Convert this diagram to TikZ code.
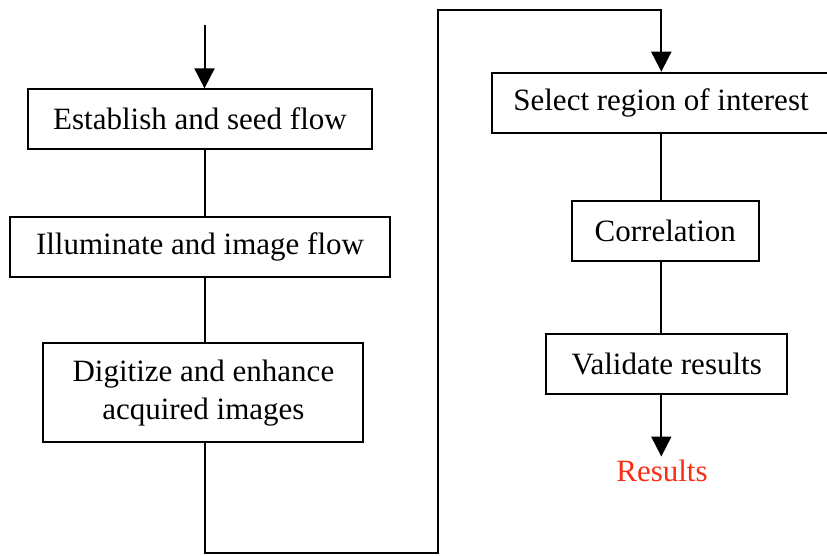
\documentclass[tikz,border=0pt]{standalone}
\usepackage{fontspec}
\setmainfont{Liberation Serif}
\usetikzlibrary{arrows.meta}
\definecolor{resultred}{RGB}{250,45,20}
\tikzset{
  stepbox/.style={draw, line width=2pt, inner sep=0pt, align=center,
    font=\fontsize{31}{38}\selectfont},
  link/.style={line width=2pt},
  flowarrow/.style={line width=2pt, -{Triangle[width=20pt,length=20pt]}}
}
\begin{document}
\begin{tikzpicture}[x=1pt,y=-1pt]
\useasboundingbox (0,0) rectangle (827,555);
\begin{scope}
\clip (0,0) rectangle (827,555);
% left column
\node[stepbox, minimum width=344.6pt, minimum height=59.7pt] (seed) at (200,119.2) {Establish and seed flow};
\node[stepbox, minimum width=380pt, minimum height=60pt] (illum) at (200,247) {Illuminate and image flow};
\node[stepbox, minimum width=320pt, minimum height=99pt] (digit) at (203.4,392.8) {Digitize and enhance\\acquired images};
% right column
\node[stepbox, minimum width=338pt, minimum height=60.6pt] (roi) at (661,103) {Select region of interest};
\node[stepbox, minimum width=187pt, minimum height=60pt] (corr) at (665.3,231) {Correlation};
\node[stepbox, minimum width=241pt, minimum height=60pt] (valid) at (666.7,364) {Validate results};
\node[text=resultred, inner sep=0pt, font=\fontsize{31}{38}\selectfont] (res) at (662,471) {Results};
% spine coordinates
\coordinate (start) at (204.5,25);
\coordinate (lx) at (204.5,0);
\coordinate (rx) at (661.3,0);
\coordinate (botL) at (204.5,553);
\coordinate (botR) at (437.5,553);
\coordinate (topL) at (437.5,9.5);
\coordinate (topR) at (661.3,9.5);
\coordinate (restip) at (661.3,456.5);
% connectors
\draw[flowarrow] (start) -- (seed.north -| lx);
\draw[link] (seed.south -| lx) -- (illum.north -| lx);
\draw[link] (illum.south -| lx) -- (digit.north -| lx);
\draw[flowarrow] (digit.south -| lx) -- (botL) -- (botR) -- (topL) -- (topR) -- (roi.north -| rx);
\draw[link] (roi.south -| rx) -- (corr.north -| rx);
\draw[link] (corr.south -| rx) -- (valid.north -| rx);
\draw[flowarrow] (valid.south -| rx) -- (restip);
\end{scope}
\end{tikzpicture}
\end{document}
